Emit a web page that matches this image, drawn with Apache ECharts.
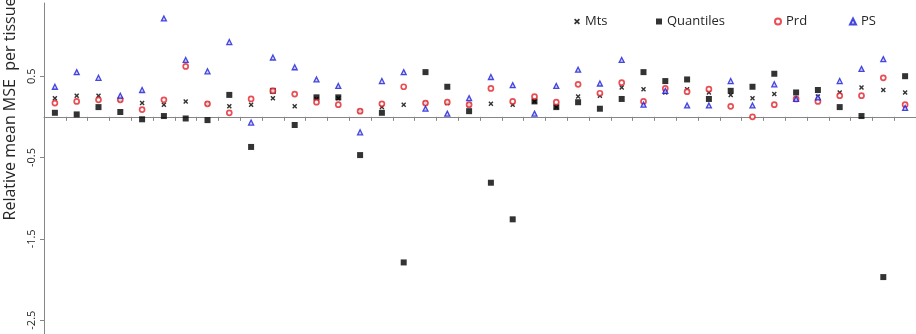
<!DOCTYPE html>
<html>
<head>
<meta charset="utf-8">
<script src="https://cdn.jsdelivr.net/npm/echarts@6/dist/echarts.min.js"></script>
<style>
  html, body { margin: 0; padding: 0; background: #fff; }
  #chart { width: 916px; height: 334px; }
</style>
</head>
<body>
<div id="chart"></div>
<script>
// one category per tissue, no labels drawn on the x axis
var tissues = ['1','2','3','4','5','6','7','8','9','10','11','12','13','14','15','16','17','18','19','20',
               '21','22','23','24','25','26','27','28','29','30','31','32','33','34','35','36','37','38','39','40'];

var mts = [0.23, 0.26, 0.26, 0.21, 0.17, 0.15, 0.19, 0.16, 0.13, 0.15,
           0.23, 0.13, 0.22, 0.23, 0.07, 0.12, 0.15, 0.17, 0.17, 0.15,
           0.16, 0.15, 0.19, 0.12, 0.25, 0.26, 0.36, 0.34, 0.30, 0.34,
           0.30, 0.27, 0.23, 0.28, 0.22, 0.25, 0.30, 0.36, 0.33, 0.30];

var quantiles = [0.05, 0.03, 0.12, 0.06, -0.03, 0.01, -0.02, -0.04, 0.27, -0.37,
                 0.32, -0.10, 0.24, 0.24, -0.47, 0.05, -1.79, 0.55, 0.37, 0.07,
                 -0.81, -1.26, 0.19, 0.12, 0.18, 0.10, 0.22, 0.55, 0.44, 0.46,
                 0.22, 0.32, 0.37, 0.53, 0.30, 0.33, 0.12, 0.01, -1.97, 0.50];

var prd = [0.17, 0.19, 0.21, 0.21, 0.09, 0.21, 0.62, 0.16, 0.05, 0.22,
           0.32, 0.28, 0.18, 0.15, 0.07, 0.16, 0.37, 0.17, 0.18, 0.15,
           0.35, 0.19, 0.25, 0.18, 0.40, 0.29, 0.42, 0.19, 0.35, 0.31,
           0.34, 0.13, 0.00, 0.15, 0.22, 0.19, 0.26, 0.26, 0.48, 0.15];

var ps = [0.37, 0.55, 0.48, 0.26, 0.33, 1.21, 0.70, 0.56, 0.92, -0.07,
          0.73, 0.61, 0.46, 0.38, -0.19, 0.44, 0.55, 0.10, 0.04, 0.23,
          0.49, 0.39, 0.04, 0.38, 0.58, 0.41, 0.70, 0.15, 0.32, 0.14,
          0.14, 0.44, 0.14, 0.40, 0.22, 0.24, 0.44, 0.59, 0.71, 0.11];

var yTicks = [-2.5, -1.5, -0.5, 0.5];

var FONT = '"Open Sans", "Noto Sans", sans-serif';
var AXIS_GREY = '#868686';
var crossPath = 'path://M2,0L5,3L8,0L10,2L7,5L10,8L8,10L5,7L2,10L0,8L3,5L0,2Z';

var chart = echarts.init(document.getElementById('chart'), null, { renderer: 'canvas' });

function legendAt(name, left) {
	return {
		data: [name],
		left: left,
		top: 10,
		itemWidth: 6,
		itemHeight: 6,
		itemGap: 0,
		textStyle: { fontFamily: FONT, fontSize: 13, color: '#262626' }
	};
}

var option = {
	animation: false,
	backgroundColor: '#fff',
	textStyle: { fontFamily: FONT },
	legend: [
		legendAt('Mts', 569),
		legendAt('Quantiles', 651),
		legendAt('Prd', 769),
		legendAt('PS', 844)
	],
	grid: {
		left: 44,
		right: 0,
		top: 3,
		bottom: 0,
		containLabel: false,
		outerBoundsMode: 'none'
	},
	xAxis: {
		type: 'category',
		data: tissues,
		boundaryGap: true,
		axisLine: { onZero: true, lineStyle: { color: AXIS_GREY, width: 1 } },
		axisTick: { show: true, length: 4, alignWithLabel: false, interval: 0, lineStyle: { color: AXIS_GREY } },
		axisLabel: { show: false },
		splitLine: { show: false }
	},
	yAxis: {
		type: 'value',
		min: -2.67,
		max: 1.4,
		axisLine: { show: true, lineStyle: { color: AXIS_GREY, width: 1 } },
		axisTick: { show: true, length: 4, customValues: yTicks, lineStyle: { color: AXIS_GREY } },
		axisLabel: {
			customValues: yTicks,
			rotate: 90,
			margin: 7,
			fontFamily: FONT,
			fontSize: 11,
			color: '#262626',
			formatter: function (v) { return String(v); }
		},
		splitLine: { show: false }
	},
	graphic: [{
		type: 'text',
		x: 10,
		y: 109,
		rotation: Math.PI / 2,
		style: {
			text: 'Relative mean MSE  per tissue',
			fontFamily: FONT,
			fontSize: 16,
			fill: '#262626',
			textAlign: 'center',
			textVerticalAlign: 'middle'
		}
	}],
	series: [
		{
			name: 'Mts',
			type: 'scatter',
			data: mts,
			symbol: crossPath,
			symbolSize: 5,
			itemStyle: { color: '#000' },
			z: 2
		},
		{
			name: 'Quantiles',
			type: 'scatter',
			data: quantiles,
			symbol: 'rect',
			symbolSize: 6,
			itemStyle: { color: '#000' },
			z: 3
		},
		{
			name: 'Prd',
			type: 'scatter',
			data: prd,
			symbol: 'circle',
			symbolSize: 5,
			itemStyle: { color: '#fff', borderColor: '#e3222a', borderWidth: 1.7 },
			z: 4
		},
		{
			name: 'PS',
			type: 'scatter',
			data: ps,
			symbol: 'triangle',
			symbolSize: [5, 5],
			itemStyle: { color: '#c4c6ff', borderColor: '#1a1dd6', borderWidth: 1.3 },
			z: 5
		}
	]
};

chart.setOption(option);
window.addEventListener('resize', function () {
	chart.resize();
});
</script>
</body>
</html>
